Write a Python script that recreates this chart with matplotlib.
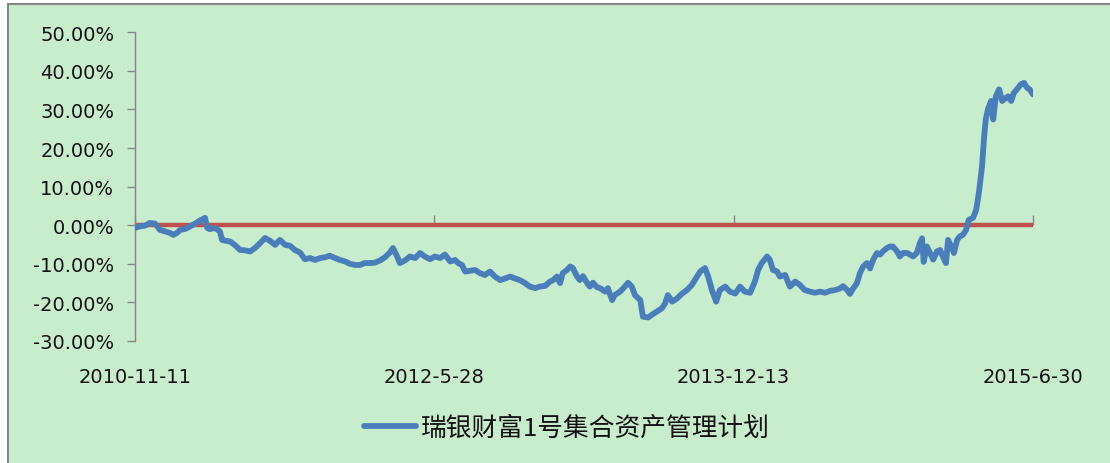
import matplotlib
matplotlib.use("Agg")
import matplotlib.pyplot as plt
import matplotlib.ticker as mticker
from matplotlib.patches import Rectangle
import pandas as pd

# ---- data ----
start_date = "2010-11-11"
day_offsets = [
    0, 9, 19, 28, 38, 47, 57, 66, 72, 79, 85, 94, 104, 113, 122, 132, 136, 141, 151, 160,
    164, 170, 179, 188, 198, 207, 217, 226, 236, 245, 254, 264, 273, 283, 292, 301, 311, 320, 330, 339,
    349, 358, 367, 377, 386, 396, 405, 415, 424, 433, 443, 452, 462, 471, 480, 486, 494, 499, 509, 518,
    528, 537, 546, 556, 565, 575, 584, 594, 603, 609, 616, 622, 631, 641, 650, 659, 669, 678, 688, 697,
    707, 716, 725, 735, 744, 754, 763, 773, 782, 788, 795, 801, 806, 814, 820, 825, 833, 838, 844, 852,
    857, 863, 870, 876, 886, 891, 899, 904, 914, 923, 929, 936, 942, 952, 957, 967, 974, 984, 993, 999,
    1004, 1012, 1021, 1031, 1040, 1049, 1059, 1065, 1074, 1080, 1087, 1095, 1102, 1112, 1121, 1131, 1140, 1149, 1159, 1168,
    1174, 1181, 1191, 1196, 1202, 1210, 1215, 1225, 1234, 1244, 1253, 1262, 1272, 1281, 1291, 1300, 1310, 1319, 1328, 1334,
    1342, 1347, 1353, 1360, 1366, 1372, 1379, 1385, 1391, 1398, 1404, 1409, 1417, 1423, 1428, 1436, 1441, 1447, 1455, 1460,
    1466, 1473, 1479, 1483, 1486, 1492, 1498, 1504, 1511, 1517, 1522, 1528, 1532, 1538, 1543, 1549, 1554, 1560, 1566, 1571,
    1579, 1585, 1590, 1596, 1600, 1603, 1607, 1613, 1617, 1622, 1628, 1634, 1639, 1645, 1651, 1656, 1664, 1669, 1675, 1681,
    1686, 1692,
]
returns_pct = [
    -0.7, -0.3, -0.1, 0.6, 0.4, -1.2, -1.6, -2.0, -2.5, -2.0, -1.2, -1.0, -0.3, 0.4, 1.2, 1.9, -0.7, -1.0, -0.7, -1.6,
    -3.8, -4.0, -4.2, -5.1, -6.4, -6.5, -6.8, -5.9, -4.6, -3.3, -4.0, -5.1, -3.8, -5.1, -5.3, -6.4, -7.1, -8.8, -8.5, -9.0,
    -8.5, -8.3, -7.9, -8.5, -9.0, -9.4, -10.0, -10.3, -10.3, -9.8, -9.8, -9.7, -9.1, -8.3, -7.1, -5.9, -8.1, -9.8, -9.1, -8.1,
    -8.5, -7.2, -8.1, -8.8, -8.1, -8.5, -7.6, -9.4, -9.0, -9.8, -10.3, -12.0, -11.8, -11.6, -12.4, -12.9, -12.0, -13.3, -14.2, -13.8,
    -13.3, -13.8, -14.2, -15.0, -15.9, -16.3, -15.9, -15.7, -14.6, -14.2, -13.3, -15.0, -12.4, -11.6, -10.7, -11.1, -13.3, -14.2, -13.2, -15.0,
    -15.9, -14.9, -16.0, -16.3, -17.2, -16.3, -19.4, -18.1, -17.2, -15.9, -14.9, -15.9, -18.1, -19.4, -23.7, -23.9, -23.2, -22.3, -21.5, -20.2,
    -18.1, -19.8, -19.0, -17.7, -16.8, -15.5, -13.3, -12.0, -11.1, -13.3, -16.8, -19.8, -16.8, -15.9, -17.2, -17.7, -15.9, -17.2, -17.5, -14.6,
    -11.6, -9.8, -8.1, -8.9, -11.6, -12.0, -13.3, -12.9, -15.9, -14.6, -15.5, -16.8, -17.2, -17.5, -17.2, -17.5, -17.0, -16.8, -16.4, -15.8,
    -16.8, -17.8, -16.4, -15.1, -12.4, -10.7, -9.8, -11.2, -8.9, -7.2, -7.6, -6.8, -5.9, -5.5, -5.5, -6.8, -8.1, -7.2, -7.2, -7.6,
    -8.1, -7.2, -4.6, -3.4, -9.5, -5.5, -7.2, -8.9, -6.8, -6.4, -8.1, -9.8, -3.8, -5.5, -7.2, -3.8, -2.9, -2.5, -1.2, 1.4,
    1.9, 4.0, 8.4, 15.3, 23.1, 27.4, 30.0, 32.2, 27.4, 33.4, 35.2, 32.2, 32.8, 33.4, 32.2, 34.3, 35.6, 36.5, 36.9, 35.6,
    35.2, 33.9,
]
series_name = "瑞银财富1号集合资产管理计划"
tick_dates = ["2010-11-11", "2012-05-28", "2013-12-13", "2015-06-30"]
tick_labels = ["2010-11-11", "2012-5-28", "2013-12-13", "2015-6-30"]
y_ticks = [-30, -20, -10, 0, 10, 20, 30, 40, 50]

# ---- styling ----
BG = "#C7EDCC"
BLUE = "#4A7EBB"
RED = "#C0504D"
GRAY = "#868686"

W, H = 1110, 464
fig = plt.figure(figsize=(W / 100, H / 100), dpi=100, facecolor="white")
bg = Rectangle((8 / W, -0.05), 1.2, 1 - 5 / H + 0.05, transform=fig.transFigure,
               facecolor=BG, edgecolor=GRAY, linewidth=1.5, zorder=-10)
fig.patches.append(bg)

ax_l, ax_r = 135 / W, 1033 / W
ax_b, ax_t = 1 - 342 / H, 1 - 33.3 / H
ax = fig.add_axes([ax_l, ax_b, ax_r - ax_l, ax_t - ax_b])
ax.set_facecolor("none")
ax.set_zorder(1)

dates = pd.Timestamp(start_date) + pd.to_timedelta(day_offsets, unit="D")
tdates = pd.to_datetime(tick_dates)

ax.axhline(0, color=RED, linewidth=3.2, zorder=2)
ax.plot(dates, returns_pct, color=BLUE, linewidth=4.2, solid_capstyle="round",
        solid_joinstyle="round", zorder=3, label=series_name)

ax.set_xlim(tdates[0], tdates[-1])
ax.set_ylim(-30, 50)
ax.set_yticks(y_ticks)
ax.yaxis.set_major_formatter(mticker.FuncFormatter(lambda v, p: f"{v:.2f}%"))

for s in ["top", "right", "bottom"]:
    ax.spines[s].set_visible(False)
ax.spines["left"].set_color(GRAY)
ax.spines["left"].set_linewidth(1.0)

ax.tick_params(axis="y", direction="out", length=6, width=1, color=GRAY, pad=9,
               labelsize=14, labelcolor="#111111")
ax.set_xticks(tdates)
ax.set_xticklabels(tick_labels)
ax.tick_params(axis="x", length=0, pad=19, labelsize=14, labelcolor="#111111")

# tick marks on the horizontal axis, which crosses at zero
sec = ax.secondary_xaxis(30 / 80)
sec.set_xticks(tdates)
sec.set_xticklabels([])
sec.spines["bottom"].set_visible(False)
sec.spines["top"].set_visible(False)
sec.tick_params(axis="x", which="both", top=True, bottom=False, labeltop=False,
                labelbottom=False, direction="out", length=7, width=1, color=GRAY)

fig.legend(loc="center", bbox_to_anchor=(567 / W, 1 - 429 / H), frameon=False,
           prop={"family": ["Noto Sans CJK SC", "DejaVu Sans"], "size": 18.5},
           handlelength=2.0, handletextpad=0.2, labelcolor="#111111")

fig.savefig("out.png", dpi=100, facecolor=fig.get_facecolor())
